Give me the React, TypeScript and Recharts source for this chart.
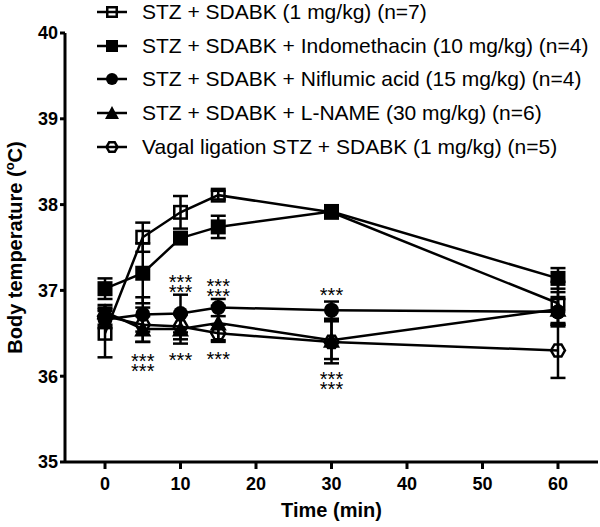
import { ComposedChart, ErrorBar, Line, Scatter, XAxis, YAxis } from "recharts";

const FONT = '"Liberation Sans", Arial, Helvetica, sans-serif';

// time points (min)
const times = [0, 5, 10, 15, 30, 60];

// mean body temperature (°C) and SEM per group
const sdabkValues = [36.5, 37.62, 37.91, 38.11, 37.91, 36.85];
const sdabkErrors = [0.28, 0.17, 0.19, 0.05, 0.05, 0.25];
const indoValues = [37.02, 37.2, 37.61, 37.74, 37.92, 37.14];
const indoErrors = [0.12, 0.35, 0.06, 0.13, 0.04, 0.12];
const niflumicValues = [36.66, 36.72, 36.73, 36.8, 36.77, 36.75];
const niflumicErrors = [0.1, 0.2, 0.22, 0.1, 0.1, 0.15];
const lnameValues = [36.75, 36.55, 36.55, 36.62, 36.42, 36.78];
const lnameErrors = [0.08, 0.15, 0.17, 0.2, 0.22, 0.2];
const vagalValues = [36.7, 36.6, 36.58, 36.5, 36.4, 36.3];
const vagalErrors = [0.1, 0.2, 0.15, 0.1, 0.25, 0.32];

const seriesNames = [
  "STZ + SDABK (1 mg/kg) (n=7)",
  "STZ + SDABK + Indomethacin (10 mg/kg) (n=4)",
  "STZ + SDABK + Niflumic acid (15 mg/kg) (n=4)",
  "STZ + SDABK + L-NAME (30 mg/kg) (n=6)",
  "Vagal ligation STZ + SDABK (1 mg/kg) (n=5)",
];

// significance marks (***): time, temperature of the first row, number of rows
const starTimes = [5, 10, 10, 15, 15, 30, 30];
const starLevels = [36.22, 37.14, 36.24, 37.1, 36.25, 36.99, 36.01];
const starRows = [2, 2, 1, 2, 1, 1, 2];

const xTicks = [0, 10, 20, 30, 40, 50, 60];
const yTicks = [35, 36, 37, 38, 39, 40];

type MarkerKind = "openSquare" | "square" | "circle" | "triangle" | "openHexagon";

const series: { key: string; values: number[]; errors: number[]; marker: MarkerKind }[] = [
  { key: "sdabk", values: sdabkValues, errors: sdabkErrors, marker: "openSquare" },
  { key: "indo", values: indoValues, errors: indoErrors, marker: "square" },
  { key: "niflumic", values: niflumicValues, errors: niflumicErrors, marker: "circle" },
  { key: "lname", values: lnameValues, errors: lnameErrors, marker: "triangle" },
  { key: "vagal", values: vagalValues, errors: vagalErrors, marker: "openHexagon" },
];

const rows = times.map((t, i) => {
  const row: Record<string, number> = { t };
  series.forEach((s) => {
    row[s.key] = s.values[i];
    row[`${s.key}Err`] = s.errors[i];
  });
  return row;
});

const stars = starTimes.map((t, i) => ({ t, y: starLevels[i], n: starRows[i] }));

function Marker({ kind, cx, cy, size }: { kind: MarkerKind; cx: number; cy: number; size: number }) {
  const h = size / 2;
  if (cx == null || cy == null) return null;
  switch (kind) {
    case "openSquare":
      return (
        <rect x={cx - h + 1.25} y={cy - h + 1.25} width={size - 2.5} height={size - 2.5} fill="none" stroke="#000" strokeWidth={2.5} />
      );
    case "square":
      return <rect x={cx - h} y={cy - h} width={size} height={size} fill="#000" />;
    case "circle":
      return <circle cx={cx} cy={cy} r={h} fill="#000" />;
    case "triangle":
      return <polygon points={`${cx},${cy - h - 1} ${cx + h + 1},${cy + h} ${cx - h - 1},${cy + h}`} fill="#000" />;
    case "openHexagon": {
      const r = h - 0.5;
      const pts = [0, 60, 120, 180, 240, 300]
        .map((a) => {
          const rad = (a * Math.PI) / 180;
          return `${cx + r * Math.cos(rad)},${cy + r * Math.sin(rad)}`;
        })
        .join(" ");
      return <polygon points={pts} fill="none" stroke="#000" strokeWidth={2.5} />;
    }
  }
  return null;
}

function XTitle({ viewBox }: any) {
  return (
    <text x={viewBox.x + viewBox.width / 2} y={517} textAnchor="middle" fontFamily={FONT} fontSize={20} fontWeight="bold" fill="#000">
      Time (min)
    </text>
  );
}

function YTitle({ viewBox }: any) {
  const cy = viewBox.y + viewBox.height / 2;
  return (
    <text transform={`translate(21.5, ${cy}) rotate(-90)`} textAnchor="middle" fontFamily={FONT} fontSize={20} fontWeight="bold" fill="#000">
      Body temperature (
      <tspan fontSize={13} dy={-8}>
        o
      </tspan>
      <tspan dy={8}>C)</tspan>
    </text>
  );
}

function LegendBox() {
  return (
    <div style={{ position: "absolute", left: 0, top: 0, pointerEvents: "none" }}>
      {series.map((s, i) => (
        <div
          key={s.key}
          style={{
            position: "absolute",
            left: 97,
            top: 12 + i * 33.7 - 16,
            height: 32,
            display: "flex",
            alignItems: "center",
            whiteSpace: "nowrap",
          }}
        >
          <svg width={30} height={32} style={{ display: "block" }}>
            <line x1={0} y1={16} x2={30} y2={16} stroke="#000" strokeWidth={2.5} />
            <Marker kind={s.marker} cx={15} cy={16} size={12} />
          </svg>
          <span style={{ marginLeft: 15, fontFamily: FONT, fontSize: 21, lineHeight: "24px", color: "#000" }}>{seriesNames[i]}</span>
        </div>
      ))}
    </div>
  );
}

function Stars(p: any) {
  return (
    <text x={p.cx} y={p.cy + 11} textAnchor="middle" fontFamily={FONT} fontSize={20} fill="#000">
      <tspan x={p.cx}>***</tspan>
      {p.payload.n > 1 && (
        <tspan x={p.cx} dy={10}>
          ***
        </tspan>
      )}
    </text>
  );
}

export default function App() {
  return (
    <div style={{ position: "absolute", left: 0, top: 0, width: 600, height: 527, background: "#fff" }}>
      <ComposedChart width={600} height={527} data={rows} margin={{ top: 33, right: 2, bottom: 0, left: 0 }}>
        <XAxis
          type="number"
          dataKey="t"
          domain={[-5.3, 65.3]}
          ticks={xTicks}
          interval={0}
          allowDataOverflow
          height={65}
          tickSize={7}
          tickMargin={8}
          axisLine={{ stroke: "#000", strokeWidth: 3 }}
          tickLine={{ stroke: "#000", strokeWidth: 3 }}
          tick={{ fill: "#000", fontSize: 18, fontWeight: "bold", fontFamily: FONT }}
          label={<XTitle />}
        />
        <YAxis
          type="number"
          domain={[35, 40]}
          ticks={yTicks}
          interval={0}
          allowDataOverflow
          width={65}
          tickSize={5}
          tickMargin={2}
          axisLine={{ stroke: "#000", strokeWidth: 3 }}
          tickLine={{ stroke: "#000", strokeWidth: 3 }}
          tick={{ fill: "#000", fontSize: 18, fontWeight: "bold", fontFamily: FONT }}
          label={<YTitle />}
        />
        {series.map((s) => (
          <Line
            key={s.key}
            dataKey={s.key}
            type="linear"
            stroke="#000"
            strokeWidth={2.5}
            isAnimationActive={false}
            activeDot={false}
            dot={(p: any) => <Marker key={`${s.key}-${p.index}`} kind={s.marker} cx={p.cx} cy={p.cy} size={15} />}
          >
            <ErrorBar dataKey={`${s.key}Err`} direction="y" width={7.5} stroke="#000" strokeWidth={2.5} isAnimationActive={false} />
          </Line>
        ))}
        <Scatter data={stars} dataKey="y" isAnimationActive={false} shape={Stars} />
      </ComposedChart>
      <LegendBox />
    </div>
  );
}
